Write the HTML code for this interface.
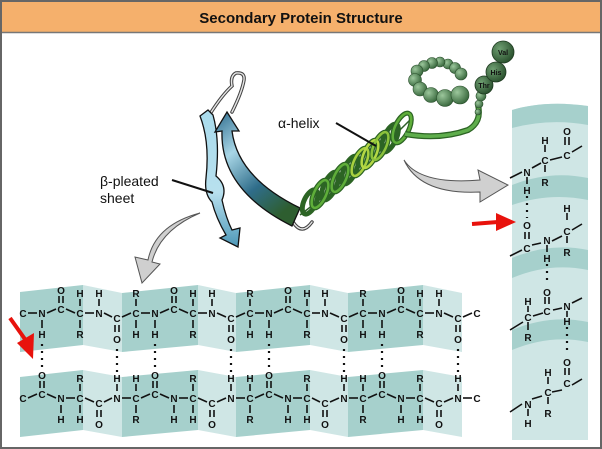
<!DOCTYPE html>
<html><head><meta charset="utf-8"><style>
html,body{margin:0;padding:0;background:#fff}
svg{display:block}
text{font-family:"Liberation Sans",Arial,sans-serif}
.a{font-size:10px;font-weight:bold;fill:#111;text-anchor:middle}
</style></head><body>
<svg width="602" height="449" viewBox="0 0 602 449" xmlns="http://www.w3.org/2000/svg">
<defs>
<linearGradient id="gs" x1="0" y1="0" x2="0.6" y2="1"><stop offset="0" stop-color="#2c6a8c"/><stop offset="0.35" stop-color="#a8d6e6"/><stop offset="0.7" stop-color="#2f6d8a"/><stop offset="1" stop-color="#2e5e30"/></linearGradient>
<linearGradient id="gl" x1="0" y1="0" x2="0" y2="1"><stop offset="0" stop-color="#a9dbec"/><stop offset="0.6" stop-color="#b8e0ee"/><stop offset="1" stop-color="#4d98b8"/></linearGradient>
<radialGradient id="bd" cx="0.35" cy="0.35" r="0.75"><stop offset="0" stop-color="#9cc79c"/><stop offset="1" stop-color="#2f5f34"/></radialGradient>
<radialGradient id="bk" cx="0.35" cy="0.35" r="0.75"><stop offset="0" stop-color="#6f9f72"/><stop offset="1" stop-color="#244a28"/></radialGradient>
</defs>
<rect x="0" y="0" width="602" height="449" fill="#fff"/>
<rect x="1" y="1" width="600" height="447" fill="none" stroke="#666" stroke-width="2"/>
<rect x="2" y="2" width="598" height="30" fill="#f5b06c"/>
<line x1="2" y1="32.5" x2="600" y2="32.5" stroke="#777" stroke-width="1.5"/>
<text x="301" y="23" font-size="15" font-weight="bold" text-anchor="middle" fill="#111">Secondary Protein Structure</text>

<!-- beta sheet bands -->
<g>
<polygon points="20,292 83,285 83,345 20,352" fill="#a6d0cc"/>
<polygon points="83,285 122,293 122,352 83,345" fill="#cfe6e5"/>
<polygon points="122,293 198,285 198,345 122,352" fill="#a6d0cc"/>
<polygon points="198,285 236,293 236,352 198,345" fill="#cfe6e5"/>
<polygon points="236,293 310,285 310,345 236,352" fill="#a6d0cc"/>
<polygon points="310,285 348,293 348,352 310,345" fill="#cfe6e5"/>
<polygon points="348,293 423,285 423,345 348,352" fill="#a6d0cc"/>
<polygon points="423,285 462,293 462,352 423,345" fill="#cfe6e5"/>
<polygon points="20,377 83,370 83,430 20,437" fill="#a6d0cc"/>
<polygon points="83,370 122,377 122,437 83,430" fill="#cfe6e5"/>
<polygon points="122,377 198,370 198,430 122,437" fill="#a6d0cc"/>
<polygon points="198,370 236,377 236,437 198,430" fill="#cfe6e5"/>
<polygon points="236,377 310,370 310,430 236,437" fill="#a6d0cc"/>
<polygon points="310,370 348,377 348,437 310,430" fill="#cfe6e5"/>
<polygon points="348,377 423,370 423,430 348,437" fill="#a6d0cc"/>
<polygon points="423,370 462,377 462,437 423,430" fill="#cfe6e5"/>
</g>

<g stroke="#111" stroke-width="1.6">
<line x1="28" y1="313" x2="37" y2="313"/>
<line x1="47" y1="313" x2="56" y2="309"/><line x1="66" y1="309" x2="75" y2="313"/><line x1="85" y1="313" x2="94" y2="313"/><line x1="104" y1="313" x2="112" y2="317"/><line x1="122" y1="317" x2="131" y2="313"/><line x1="141" y1="313" x2="150" y2="313"/>
<line x1="160" y1="313" x2="169" y2="309"/><line x1="179" y1="309" x2="188" y2="313"/><line x1="198" y1="313" x2="207" y2="313"/><line x1="217" y1="313" x2="226" y2="317"/><line x1="236" y1="317" x2="245" y2="313"/><line x1="255" y1="313" x2="264" y2="313"/>
<line x1="274" y1="313" x2="283" y2="309"/><line x1="293" y1="309" x2="302" y2="313"/><line x1="312" y1="313" x2="320" y2="313"/><line x1="330" y1="313" x2="339" y2="317"/><line x1="349" y1="317" x2="358" y2="313"/><line x1="368" y1="313" x2="377" y2="313"/>
<line x1="387" y1="313" x2="396" y2="309"/><line x1="406" y1="309" x2="415" y2="313"/><line x1="425" y1="313" x2="434" y2="313"/><line x1="444" y1="313" x2="453" y2="317"/><line x1="463" y1="317" x2="472" y2="313"/>
</g>
<g stroke="#111" stroke-width="1.6">
<line x1="42" y1="320" x2="42" y2="328"/>
<line x1="59" y1="296" x2="59" y2="303"/><line x1="63" y1="296" x2="63" y2="303"/>
<line x1="80" y1="299" x2="80" y2="306"/><line x1="80" y1="320" x2="80" y2="328"/>
<line x1="99" y1="299" x2="99" y2="306"/>
<line x1="115" y1="325" x2="115" y2="332"/><line x1="119" y1="325" x2="119" y2="332"/>
<line x1="136" y1="299" x2="136" y2="306"/><line x1="136" y1="320" x2="136" y2="328"/>
<line x1="155" y1="320" x2="155" y2="328"/>
<line x1="172" y1="296" x2="172" y2="303"/><line x1="176" y1="296" x2="176" y2="303"/>
<line x1="193" y1="299" x2="193" y2="306"/><line x1="193" y1="320" x2="193" y2="328"/>
<line x1="212" y1="299" x2="212" y2="306"/>
<line x1="229" y1="325" x2="229" y2="332"/><line x1="233" y1="325" x2="233" y2="332"/>
<line x1="250" y1="299" x2="250" y2="306"/><line x1="250" y1="320" x2="250" y2="328"/>
<line x1="269" y1="320" x2="269" y2="328"/>
<line x1="286" y1="296" x2="286" y2="303"/><line x1="290" y1="296" x2="290" y2="303"/>
<line x1="307" y1="299" x2="307" y2="306"/><line x1="307" y1="320" x2="307" y2="328"/>
<line x1="325" y1="299" x2="325" y2="306"/>
<line x1="342" y1="325" x2="342" y2="332"/><line x1="346" y1="325" x2="346" y2="332"/>
<line x1="363" y1="299" x2="363" y2="306"/><line x1="363" y1="320" x2="363" y2="328"/>
<line x1="382" y1="320" x2="382" y2="328"/>
<line x1="399" y1="296" x2="399" y2="303"/><line x1="403" y1="296" x2="403" y2="303"/>
<line x1="420" y1="299" x2="420" y2="306"/><line x1="420" y1="320" x2="420" y2="328"/>
<line x1="439" y1="299" x2="439" y2="306"/>
<line x1="456" y1="325" x2="456" y2="332"/><line x1="460" y1="325" x2="460" y2="332"/>
</g>
<g class="a">
<text x="23" y="317">C</text><text x="42" y="317">N</text><text x="42" y="338">H</text>
<text x="61" y="313">C</text><text x="61" y="294">O</text>
<text x="80" y="317">C</text><text x="80" y="297">H</text><text x="80" y="338">R</text>
<text x="99" y="317">N</text><text x="99" y="297">H</text>
<text x="117" y="322">C</text><text x="117" y="343">O</text>
<text x="136" y="317">C</text><text x="136" y="297">R</text><text x="136" y="338">H</text>
<text x="155" y="317">N</text><text x="155" y="338">H</text>
<text x="174" y="313">C</text><text x="174" y="294">O</text>
<text x="193" y="317">C</text><text x="193" y="297">H</text><text x="193" y="338">R</text>
<text x="212" y="317">N</text><text x="212" y="297">H</text>
<text x="231" y="322">C</text><text x="231" y="343">O</text>
<text x="250" y="317">C</text><text x="250" y="297">R</text><text x="250" y="338">H</text>
<text x="269" y="317">N</text><text x="269" y="338">H</text>
<text x="288" y="313">C</text><text x="288" y="294">O</text>
<text x="307" y="317">C</text><text x="307" y="297">H</text><text x="307" y="338">R</text>
<text x="325" y="317">N</text><text x="325" y="297">H</text>
<text x="344" y="322">C</text><text x="344" y="343">O</text>
<text x="363" y="317">C</text><text x="363" y="297">R</text><text x="363" y="338">H</text>
<text x="382" y="317">N</text><text x="382" y="338">H</text>
<text x="401" y="313">C</text><text x="401" y="294">O</text>
<text x="420" y="317">C</text><text x="420" y="297">H</text><text x="420" y="338">R</text>
<text x="439" y="317">N</text><text x="439" y="297">H</text>
<text x="458" y="322">C</text><text x="458" y="343">O</text>
<text x="477" y="317">C</text>
</g>

<g stroke="#111" stroke-width="1.6">
<line x1="28" y1="398" x2="37" y2="394"/><line x1="47" y1="394" x2="56" y2="398"/><line x1="66" y1="398" x2="75" y2="398"/><line x1="85" y1="398" x2="94" y2="402"/><line x1="104" y1="402" x2="112" y2="398"/><line x1="122" y1="398" x2="131" y2="398"/>
<line x1="141" y1="398" x2="150" y2="394"/><line x1="160" y1="394" x2="169" y2="398"/><line x1="179" y1="398" x2="188" y2="398"/><line x1="198" y1="398" x2="207" y2="402"/><line x1="217" y1="402" x2="226" y2="398"/><line x1="236" y1="398" x2="245" y2="398"/>
<line x1="255" y1="398" x2="264" y2="394"/><line x1="274" y1="394" x2="283" y2="398"/><line x1="293" y1="398" x2="302" y2="398"/><line x1="312" y1="398" x2="320" y2="402"/><line x1="330" y1="402" x2="339" y2="398"/><line x1="349" y1="398" x2="358" y2="398"/>
<line x1="368" y1="398" x2="377" y2="394"/><line x1="387" y1="394" x2="396" y2="398"/><line x1="406" y1="398" x2="415" y2="398"/><line x1="425" y1="398" x2="434" y2="402"/><line x1="444" y1="402" x2="453" y2="398"/><line x1="463" y1="398" x2="472" y2="398"/>
<line x1="40" y1="381" x2="40" y2="388"/><line x1="44" y1="381" x2="44" y2="388"/>
<line x1="61" y1="405" x2="61" y2="413"/>
<line x1="80" y1="384" x2="80" y2="391"/><line x1="80" y1="405" x2="80" y2="413"/>
<line x1="97" y1="410" x2="97" y2="417"/><line x1="101" y1="410" x2="101" y2="417"/>
<line x1="117" y1="384" x2="117" y2="391"/>
<line x1="136" y1="384" x2="136" y2="391"/><line x1="136" y1="405" x2="136" y2="413"/>
<line x1="153" y1="381" x2="153" y2="388"/><line x1="157" y1="381" x2="157" y2="388"/>
<line x1="174" y1="405" x2="174" y2="413"/>
<line x1="193" y1="384" x2="193" y2="391"/><line x1="193" y1="405" x2="193" y2="413"/>
<line x1="210" y1="410" x2="210" y2="417"/><line x1="214" y1="410" x2="214" y2="417"/>
<line x1="231" y1="384" x2="231" y2="391"/>
<line x1="250" y1="384" x2="250" y2="391"/><line x1="250" y1="405" x2="250" y2="413"/>
<line x1="267" y1="381" x2="267" y2="388"/><line x1="271" y1="381" x2="271" y2="388"/>
<line x1="288" y1="405" x2="288" y2="413"/>
<line x1="307" y1="384" x2="307" y2="391"/><line x1="307" y1="405" x2="307" y2="413"/>
<line x1="323" y1="410" x2="323" y2="417"/><line x1="327" y1="410" x2="327" y2="417"/>
<line x1="344" y1="384" x2="344" y2="391"/>
<line x1="363" y1="384" x2="363" y2="391"/><line x1="363" y1="405" x2="363" y2="413"/>
<line x1="380" y1="381" x2="380" y2="388"/><line x1="384" y1="381" x2="384" y2="388"/>
<line x1="401" y1="405" x2="401" y2="413"/>
<line x1="420" y1="384" x2="420" y2="391"/><line x1="420" y1="405" x2="420" y2="413"/>
<line x1="437" y1="410" x2="437" y2="417"/><line x1="441" y1="410" x2="441" y2="417"/>
<line x1="458" y1="384" x2="458" y2="391"/>
</g>
<g class="a">
<text x="23" y="402">C</text><text x="42" y="398">C</text><text x="42" y="379">O</text>
<text x="61" y="402">N</text><text x="61" y="423">H</text>
<text x="80" y="402">C</text><text x="80" y="382">R</text><text x="80" y="423">H</text>
<text x="99" y="407">C</text><text x="99" y="428">O</text>
<text x="117" y="402">N</text><text x="117" y="382">H</text>
<text x="136" y="402">C</text><text x="136" y="382">H</text><text x="136" y="423">R</text>
<text x="155" y="398">C</text><text x="155" y="379">O</text>
<text x="174" y="402">N</text><text x="174" y="423">H</text>
<text x="193" y="402">C</text><text x="193" y="382">R</text><text x="193" y="423">H</text>
<text x="212" y="407">C</text><text x="212" y="428">O</text>
<text x="231" y="402">N</text><text x="231" y="382">H</text>
<text x="250" y="402">C</text><text x="250" y="382">H</text><text x="250" y="423">R</text>
<text x="269" y="398">C</text><text x="269" y="379">O</text>
<text x="288" y="402">N</text><text x="288" y="423">H</text>
<text x="307" y="402">C</text><text x="307" y="382">R</text><text x="307" y="423">H</text>
<text x="325" y="407">C</text><text x="325" y="428">O</text>
<text x="344" y="402">N</text><text x="344" y="382">H</text>
<text x="363" y="402">C</text><text x="363" y="382">H</text><text x="363" y="423">R</text>
<text x="382" y="398">C</text><text x="382" y="379">O</text>
<text x="401" y="402">N</text><text x="401" y="423">H</text>
<text x="420" y="402">C</text><text x="420" y="382">R</text><text x="420" y="423">H</text>
<text x="439" y="407">C</text><text x="439" y="428">O</text>
<text x="458" y="402">N</text><text x="458" y="382">H</text>
<text x="477" y="402">C</text>
</g>
<g stroke="#111" stroke-width="2.2" stroke-dasharray="2,5" fill="none">
<line x1="42" y1="344" x2="42" y2="370"/><line x1="117" y1="349" x2="117" y2="374"/>
<line x1="155" y1="344" x2="155" y2="370"/><line x1="231" y1="349" x2="231" y2="374"/>
<line x1="269" y1="344" x2="269" y2="370"/><line x1="344" y1="349" x2="344" y2="374"/>
<line x1="382" y1="344" x2="382" y2="370"/><line x1="458" y1="349" x2="458" y2="374"/>
</g>

<!-- alpha helix ribbon panel -->
<g>
<path d="M512,110 Q545,100 588,106 L588,440 L512,440 Z" fill="#cfe6e5"/>
<path d="M512,110 Q545,100 588,106 L588,125 Q550,118 512,128 Z" fill="#a6d0cc"/>
<path d="M512,185 Q550,170 588,178 L588,200 Q550,192 512,205 Z" fill="#a6d0cc"/>
<path d="M512,258 Q550,242 588,250 L588,270 Q550,262 512,278 Z" fill="#a6d0cc"/>
<path d="M512,330 Q550,314 588,322 L588,342 Q550,334 512,350 Z" fill="#a6d0cc"/>
</g>
<g stroke="#111" stroke-width="1.6" fill="none">
<line x1="510" y1="178" x2="522" y2="172"/><line x1="532" y1="168" x2="541" y2="163"/><line x1="550" y1="160" x2="562" y2="157"/><line x1="572" y1="152" x2="582" y2="146"/>
<line x1="545" y1="145" x2="545" y2="152"/><line x1="545" y1="165" x2="545" y2="172"/>
<line x1="565" y1="137" x2="565" y2="145"/><line x1="569" y1="137" x2="569" y2="145"/>
<line x1="527" y1="177" x2="527" y2="184"/>
<line x1="510" y1="256" x2="522" y2="250"/><line x1="532" y1="245" x2="541" y2="243"/><line x1="552" y1="241" x2="562" y2="236"/><line x1="572" y1="230" x2="582" y2="224"/>
<line x1="525" y1="232" x2="525" y2="239"/><line x1="529" y1="232" x2="529" y2="239"/>
<line x1="547" y1="245" x2="547" y2="252"/>
<line x1="567" y1="213" x2="567" y2="220"/><line x1="567" y1="236" x2="567" y2="243"/>
<line x1="510" y1="330" x2="523" y2="322"/><line x1="533" y1="316" x2="543" y2="313"/><line x1="553" y1="310" x2="562" y2="308"/><line x1="572" y1="303" x2="582" y2="298"/>
<line x1="528" y1="306" x2="528" y2="312"/><line x1="528" y1="322" x2="528" y2="330"/>
<line x1="545" y1="297" x2="545" y2="304"/><line x1="549" y1="297" x2="549" y2="304"/>
<line x1="567" y1="311" x2="567" y2="317"/>
<line x1="565" y1="368" x2="565" y2="375"/><line x1="569" y1="368" x2="569" y2="375"/>
<line x1="510" y1="412" x2="522" y2="404"/><line x1="532" y1="399" x2="542" y2="396"/><line x1="552" y1="392" x2="562" y2="390"/><line x1="572" y1="385" x2="582" y2="379"/>
<line x1="548" y1="377" x2="548" y2="384"/><line x1="548" y1="397" x2="548" y2="404"/>
<line x1="528" y1="409" x2="528" y2="416"/>
</g>
<g stroke="#111" stroke-width="2.2" stroke-dasharray="2,5" fill="none">
<line x1="527" y1="196" x2="527" y2="218"/><line x1="547" y1="264" x2="547" y2="284"/><line x1="567" y1="327" x2="567" y2="354"/>
</g>
<g class="a">
<text x="567" y="135">O</text><text x="567" y="159">C</text><text x="545" y="144">H</text><text x="545" y="164">C</text><text x="545" y="186">R</text>
<text x="527" y="176">N</text><text x="527" y="194">H</text>
<text x="527" y="229">O</text><text x="527" y="252">C</text><text x="547" y="244">N</text><text x="547" y="262">H</text>
<text x="567" y="212">H</text><text x="567" y="235">C</text><text x="567" y="256">R</text>
<text x="547" y="296">O</text><text x="547" y="315">C</text><text x="567" y="310">N</text><text x="567" y="325">H</text>
<text x="528" y="305">H</text><text x="528" y="321">C</text><text x="528" y="341">R</text>
<text x="567" y="366">O</text><text x="567" y="387">C</text>
<text x="548" y="376">H</text><text x="548" y="396">C</text><text x="548" y="417">R</text>
<text x="528" y="408">N</text><text x="528" y="427">H</text>
</g>

<!-- red arrows -->
<line x1="10" y1="318" x2="27" y2="342" stroke="#e8120c" stroke-width="4"/>
<polygon points="17,343 34,333 33,359" fill="#e8120c"/>
<line x1="472" y1="224" x2="498" y2="222" stroke="#e8120c" stroke-width="4"/>
<polygon points="496,213 516,222 496,231" fill="#e8120c"/>

<!-- gray arrows -->
<path d="M200,213 Q155,225 148,260 L135,257 L142,283 L160,264 L152,262 Q160,230 200,213 Z" fill="#cfcfcf" stroke="#555" stroke-width="1"/>
<path d="M404,160 Q420,185 480,180 L478,170 L508,185 L480,202 L480,192 Q420,195 404,160 Z" fill="#d0d0d0" stroke="#555" stroke-width="1"/>

<!-- beta strands -->
<g fill="none" stroke-linecap="round">
<path d="M210,114 Q222,95 232,86 Q230,76 236,73 Q245,72 244,80 Q242,92 232,112" stroke="#444" stroke-width="3.5"/>
<path d="M210,114 Q222,95 232,86 Q230,76 236,73 Q245,72 244,80 Q242,92 232,112" stroke="#e6e6e6" stroke-width="1.4"/>
<path d="M293,222 Q302,236 312,222" stroke="#444" stroke-width="3.5"/>
<path d="M293,222 Q302,236 312,222" stroke="#e6e6e6" stroke-width="1.4"/>
</g>
<path d="M200,116 L208,110 L213,115 Q220,140 216,176 Q228,186 222,200 Q226,218 232,230 L240,228 L238,247 L220,238 L226,235 Q216,218 212,202 Q204,194 206,178 Q210,142 200,116 Z" fill="url(#gl)" stroke="#111" stroke-width="1.3"/>
<path d="M227,112 L239,131 L232,131 Q238,178 300,208 L292,226 Q220,190 222,131 L215,132 Z" fill="url(#gs)" stroke="#111" stroke-width="1.3"/>

<!-- alpha helix coil -->
<g fill="none">
<path d="M300,215 Q360,170 410,120" stroke="#2f5f2a" stroke-width="1.5"/>
<g stroke="#2c6424" stroke-width="5">
<ellipse cx="310" cy="202" rx="6" ry="13" transform="rotate(25 310 202)"/>
<ellipse cx="320" cy="194" rx="6" ry="15" transform="rotate(25 320 194)"/>
<ellipse cx="330" cy="186" rx="6" ry="15" transform="rotate(25 330 186)"/>
<ellipse cx="340" cy="178" rx="6" ry="15" transform="rotate(25 340 178)"/>
<ellipse cx="350" cy="170" rx="6" ry="15" transform="rotate(25 350 170)"/>
<ellipse cx="360" cy="162" rx="6" ry="15" transform="rotate(25 360 162)"/>
<ellipse cx="370" cy="154" rx="6" ry="15" transform="rotate(25 370 154)"/>
<ellipse cx="380" cy="146" rx="6" ry="15" transform="rotate(25 380 146)"/>
<ellipse cx="390" cy="138" rx="6" ry="15" transform="rotate(25 390 138)"/>
<ellipse cx="402" cy="128" rx="7" ry="16" transform="rotate(25 402 128)"/>
</g>
<g stroke="#5fae3a" stroke-width="2.5">
<ellipse cx="320" cy="194" rx="6" ry="15" transform="rotate(25 320 194)"/>
<ellipse cx="340" cy="178" rx="6" ry="15" transform="rotate(25 340 178)"/>
<ellipse cx="360" cy="162" rx="6" ry="15" transform="rotate(25 360 162)" stroke="#a8d040"/>
<ellipse cx="370" cy="154" rx="6" ry="15" transform="rotate(25 370 154)" stroke="#b5d845"/>
<ellipse cx="380" cy="146" rx="6" ry="15" transform="rotate(25 380 146)" stroke="#8cc23c"/>
<ellipse cx="402" cy="128" rx="7" ry="16" transform="rotate(25 402 128)"/>
</g>
<path d="M405,134 Q440,140 468,130 Q482,122 478,105" stroke="#2c6424" stroke-width="6"/>
<path d="M405,134 Q440,140 468,130 Q482,122 478,105" stroke="#5fae4c" stroke-width="3.5"/>
</g>
<!-- bead chain -->
<g fill="url(#bd)" stroke="#2a4f2c" stroke-width="0.6">
<circle cx="478" cy="112" r="3"/><circle cx="479" cy="104" r="4"/><circle cx="481" cy="96" r="5"/>
<circle cx="448" cy="64" r="5"/><circle cx="440" cy="62" r="5"/><circle cx="432" cy="63" r="5.5"/><circle cx="424" cy="66" r="5.5"/><circle cx="417" cy="71" r="6"/>
<circle cx="455" cy="68" r="5.5"/><circle cx="461" cy="74" r="6"/>
<circle cx="415" cy="80" r="6.5"/><circle cx="420" cy="89" r="7"/><circle cx="431" cy="95" r="7.5"/><circle cx="445" cy="98" r="8.5"/><circle cx="460" cy="95" r="9"/>
</g>
<g fill="url(#bk)" stroke="#1e3a20" stroke-width="0.8">
<circle cx="484" cy="85" r="9"/>
<circle cx="496" cy="72" r="10"/>
<circle cx="503" cy="52" r="11"/>
</g>
<text x="484" y="88" font-size="7" font-weight="bold" text-anchor="middle" fill="#111">Thr</text>
<text x="496" y="75" font-size="7" font-weight="bold" text-anchor="middle" fill="#111">His</text>
<text x="503" y="55" font-size="7" font-weight="bold" text-anchor="middle" fill="#111">Val</text>

<!-- labels -->
<text x="278" y="128" font-size="14" fill="#111">α-helix</text>
<line x1="336" y1="123" x2="376" y2="146" stroke="#111" stroke-width="2"/>
<text x="100" y="186" font-size="14" fill="#111">β-pleated</text>
<text x="100" y="203" font-size="14" fill="#111">sheet</text>
<line x1="172" y1="180" x2="213" y2="193" stroke="#111" stroke-width="2"/>
</svg>
</body></html>
